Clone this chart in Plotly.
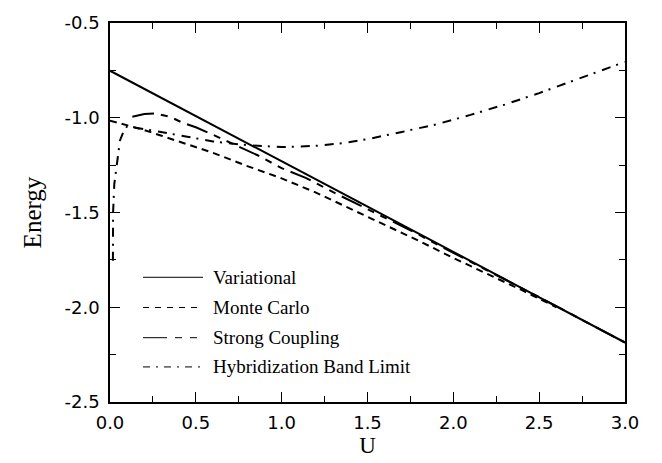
import plotly.graph_objects as go

# ---- data ----
var_u = [0.0, 0.5, 1.0, 1.5, 2.0, 2.5, 3.0]
var_e = [-0.752, -0.991, -1.230, -1.469, -1.708, -1.947, -2.186]

mc_u = [0.0, 0.1, 0.2, 0.3, 0.4, 0.5, 0.6, 0.8, 1.0, 1.2, 1.4, 1.6, 1.8, 2.0, 2.2, 2.4, 2.6]
mc_e = [-1.015, -1.04, -1.065, -1.095, -1.125, -1.155, -1.185, -1.255, -1.32, -1.395,
        -1.48, -1.565, -1.65, -1.74, -1.825, -1.91, -2.0]

sc_u = [0.13, 0.2, 0.26, 0.35, 0.42, 0.5, 0.6, 0.7, 0.86, 1.0, 1.14, 1.3, 1.5, 1.75, 2.0, 2.5, 3.0]
sc_e = [-0.995, -0.98, -0.977, -0.995, -1.025, -1.05, -1.09, -1.13, -1.198, -1.266,
        -1.317, -1.393, -1.482, -1.594, -1.713, -1.947, -2.186]

hb_u = [0.017, 0.018, 0.025, 0.04, 0.058, 0.08, 0.1, 0.2, 0.3, 0.45, 0.6, 0.8, 1.0, 1.2,
        1.35, 1.5, 1.7, 1.9, 2.1, 2.3, 2.5, 2.7, 2.9, 3.0]
hb_e = [-1.755, -1.50, -1.35, -1.24, -1.12, -1.07, -1.045, -1.06, -1.075, -1.10, -1.125,
        -1.145, -1.155, -1.148, -1.135, -1.113, -1.075, -1.035, -0.985, -0.93, -0.87,
        -0.805, -0.74, -0.705]

x_ticks = [0.0, 0.5, 1.0, 1.5, 2.0, 2.5, 3.0]
x_ticktext = ["0.0", "0.5", "1.0", "1.5", "2.0", "2.5", "3.0"]
y_ticks = [-0.5, -1.0, -1.5, -2.0, -2.5]
y_ticktext = ["-0.5", "-1.0", "-1.5", "-2.0", "-2.5"]

names = ["Variational", "Monte Carlo", "Strong Coupling", "Hybridization Band Limit"]
dashes = ["solid", "7px,5px", "22px,7px,7px,7px,7px,7px", "9px,6px,2px,7px"]
legend_dashes = ["solid", "6px,6px", "24px,8px,7px,8px,7px,8px", "7px,6px,2px,6px"]

series = [(var_u, var_e), (mc_u, mc_e), (sc_u, sc_e), (hb_u, hb_e)]

fig = go.Figure()
for (u, e), name, d in zip(series, names, dashes):
    fig.add_trace(go.Scatter(x=u, y=e, mode="lines", name=name,
                             line=dict(color="black", width=2, dash=d),
                             showlegend=False, hoverinfo="skip"))

axis_common = dict(
    showgrid=False, zeroline=False, showline=True, linecolor="black", linewidth=1.5,
    mirror="allticks", ticks="inside", ticklen=10, tickwidth=1.2, tickcolor="black",
    tickfont=dict(family="DejaVu Sans, Arial, sans-serif", size=18, color="black"),
    minor=dict(ticks="inside", ticklen=6, tickwidth=1.2, tickcolor="black", dtick=0.25),
)

serif = "Liberation Serif, Times New Roman, serif"
fig.update_xaxes(range=[0, 3], tickvals=x_ticks, ticktext=x_ticktext, ticklabelstandoff=4,
                 title=dict(text="U", font=dict(family=serif, size=23, color="black"), standoff=2),
                 **axis_common)
fig.update_yaxes(range=[-2.5, -0.5], tickvals=y_ticks, ticktext=y_ticktext, ticklabelstandoff=5,
                 title=dict(text="Energy", font=dict(family=serif, size=25, color="black"), standoff=16),
                 **axis_common)

# manual legend (paper coordinates)
left, right, top, bottom = 110, 625, 16, 405
leg_y = [277, 308, 339, 369]
shapes = []
annotations = []
for name, d, py in zip(names, legend_dashes, leg_y):
    yp = (bottom - py) / (bottom - top)
    x0 = (143 - left) / (right - left)
    x1 = (203 - left) / (right - left)
    shapes.append(dict(type="line", xref="paper", yref="paper", x0=x0, x1=x1, y0=yp, y1=yp,
                       line=dict(color="black", width=1, dash=d)))
    annotations.append(dict(xref="paper", yref="paper", x=(211 - left) / (right - left), y=yp,
                            text=name, showarrow=False, xanchor="left", yanchor="middle",
                            font=dict(family=serif, size=19, color="black")))

W, H = 662, 463
fig.update_layout(
    width=W, height=H,
    margin=dict(l=left, r=W - right, t=top, b=H - bottom),
    paper_bgcolor="white", plot_bgcolor="white",
    shapes=shapes, annotations=annotations,
    showlegend=False,
)

fig.write_html("out.html", config={"displayModeBar": False},
               post_script="document.body.style.margin='0';")
